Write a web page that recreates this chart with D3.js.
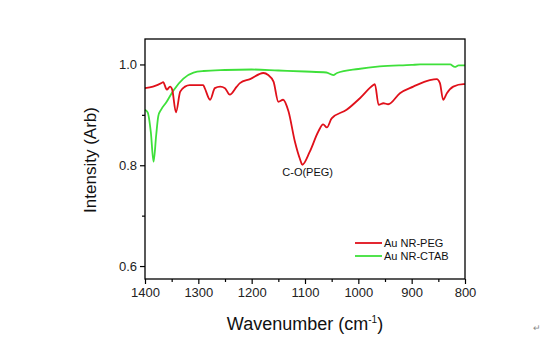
<!DOCTYPE html>
<html><head><meta charset="utf-8">
<script src="https://cdn.jsdelivr.net/npm/d3@7"></script>
<style>body{margin:0;background:#fff;}svg{display:block;font-family:"Liberation Sans",Arial,sans-serif;}</style>
</head><body><svg id="c" width="556" height="350"></svg>
<script>
const pegWave = [1400,1385,1369,1366,1359,1353,1349,1342,1334,1325,1316,1291,1288,1278,1269,1259,1250,1241,1228,1222,1203,1178,1169,1159,1150,1141,1131,1119,1109,1105,1091,1075,1066,1059,1050,1022,997,972,969,962,953,944,922,897,866,853,847,841,834,822,803,800];
const pegVal  = [0.953,0.956,0.963,0.965,0.950,0.956,0.950,0.905,0.946,0.956,0.959,0.959,0.953,0.930,0.953,0.956,0.953,0.940,0.956,0.963,0.971,0.983,0.979,0.966,0.926,0.930,0.907,0.847,0.811,0.801,0.827,0.867,0.881,0.875,0.893,0.910,0.933,0.959,0.961,0.920,0.923,0.921,0.943,0.956,0.969,0.971,0.963,0.930,0.943,0.956,0.961,0.961];
const ctabWave = [1400,1395,1389,1384,1379,1375,1370,1360,1347,1328,1309,1290,1250,1200,1150,1100,1060,1047,1040,1000,960,900,884,828,819,812,800];
const ctabVal  = [0.910,0.905,0.865,0.807,0.860,0.898,0.910,0.925,0.948,0.972,0.984,0.987,0.989,0.990,0.988,0.986,0.984,0.979,0.983,0.991,0.996,0.999,1.000,1.000,0.995,0.998,0.998];
const xTicks = [1400,1300,1200,1100,1000,900,800];
const yTicks = [0.6,0.8,1.0];
const seriesNames = ["Au NR-PEG","Au NR-CTAB"];
const seriesColors = ["#e0101a","#3ee03a"];

const svg = d3.select("#c");
const L=145,R=465,T=39,B=279;
const x = d3.scaleLinear().domain([1400,800]).range([L,R]);
const y = d3.scaleLinear().domain([0.5743,1.0505]).range([B,T]);

const line = d3.line().x(d=>x(d[0])).y(d=>y(d[1])).curve(d3.curveMonotoneX);
svg.append("path").datum(ctabWave.map((w,i)=>[w,ctabVal[i]])).attr("d",line)
  .attr("fill","none").attr("stroke",seriesColors[1]).attr("stroke-width",1.8);
svg.append("path").datum(pegWave.map((w,i)=>[w,pegVal[i]])).attr("d",line)
  .attr("fill","none").attr("stroke",seriesColors[0]).attr("stroke-width",1.8);

// frame
svg.append("rect").attr("x",L).attr("y",T).attr("width",R-L).attr("height",B-T)
  .attr("fill","none").attr("stroke","#000").attr("stroke-width",1.3);

// x axis
const xa = svg.append("g").attr("transform",`translate(0,${B})`)
  .call(d3.axisBottom(x).tickValues(xTicks).tickFormat(d3.format("d")).tickSize(5).tickPadding(4));
xa.select(".domain").remove();
const xm = svg.append("g").attr("transform",`translate(0,${B})`)
  .call(d3.axisBottom(x).tickValues(d3.range(1350,800,-100)).tickFormat("").tickSize(3));
xm.select(".domain").remove();
// y axis
const ya = svg.append("g").attr("transform",`translate(${L},0)`)
  .call(d3.axisLeft(y).tickValues(yTicks).tickFormat(d3.format(".1f")).tickSize(5).tickPadding(3));
ya.select(".domain").remove();
const ym = svg.append("g").attr("transform",`translate(${L},0)`)
  .call(d3.axisLeft(y).tickValues([0.7,0.9]).tickFormat("").tickSize(3));
ym.select(".domain").remove();
svg.selectAll(".tick line").attr("stroke","#000").attr("stroke-width",1.2);
svg.selectAll(".tick text").attr("font-size",13).attr("fill","#222").attr("font-family","Liberation Sans, Arial, sans-serif");

// axis titles
const xt = svg.append("text").attr("x",305).attr("y",330).attr("text-anchor","middle")
  .attr("font-size",18).attr("fill","#111");
xt.append("tspan").text("Wavenumber (cm");
xt.append("tspan").attr("font-size",10).attr("dy",-7).text("-1");
xt.append("tspan").attr("dy",7).text(")");
svg.append("text").attr("transform","translate(96,160) rotate(-90)").attr("text-anchor","middle")
  .attr("font-size",17).attr("fill","#111").text("Intensity (Arb)");

// annotation
svg.append("text").attr("x",x(1095)).attr("y",176).attr("text-anchor","middle")
  .attr("font-size",11).attr("fill","#111").text("C-O(PEG)");

// legend
const lg = svg.append("g");
seriesNames.forEach((n,i)=>{
  const yy = 243 + i*13;
  lg.append("line").attr("x1",355).attr("x2",382).attr("y1",yy).attr("y2",yy)
    .attr("stroke",seriesColors[i]).attr("stroke-width",1.8);
  lg.append("text").attr("x",384).attr("y",yy+4).attr("font-size",11).attr("fill","#111").text(n);
});

svg.append("text").attr("x",533).attr("y",331).attr("font-size",9).attr("fill","#888").text("↵");
</script></body></html>
